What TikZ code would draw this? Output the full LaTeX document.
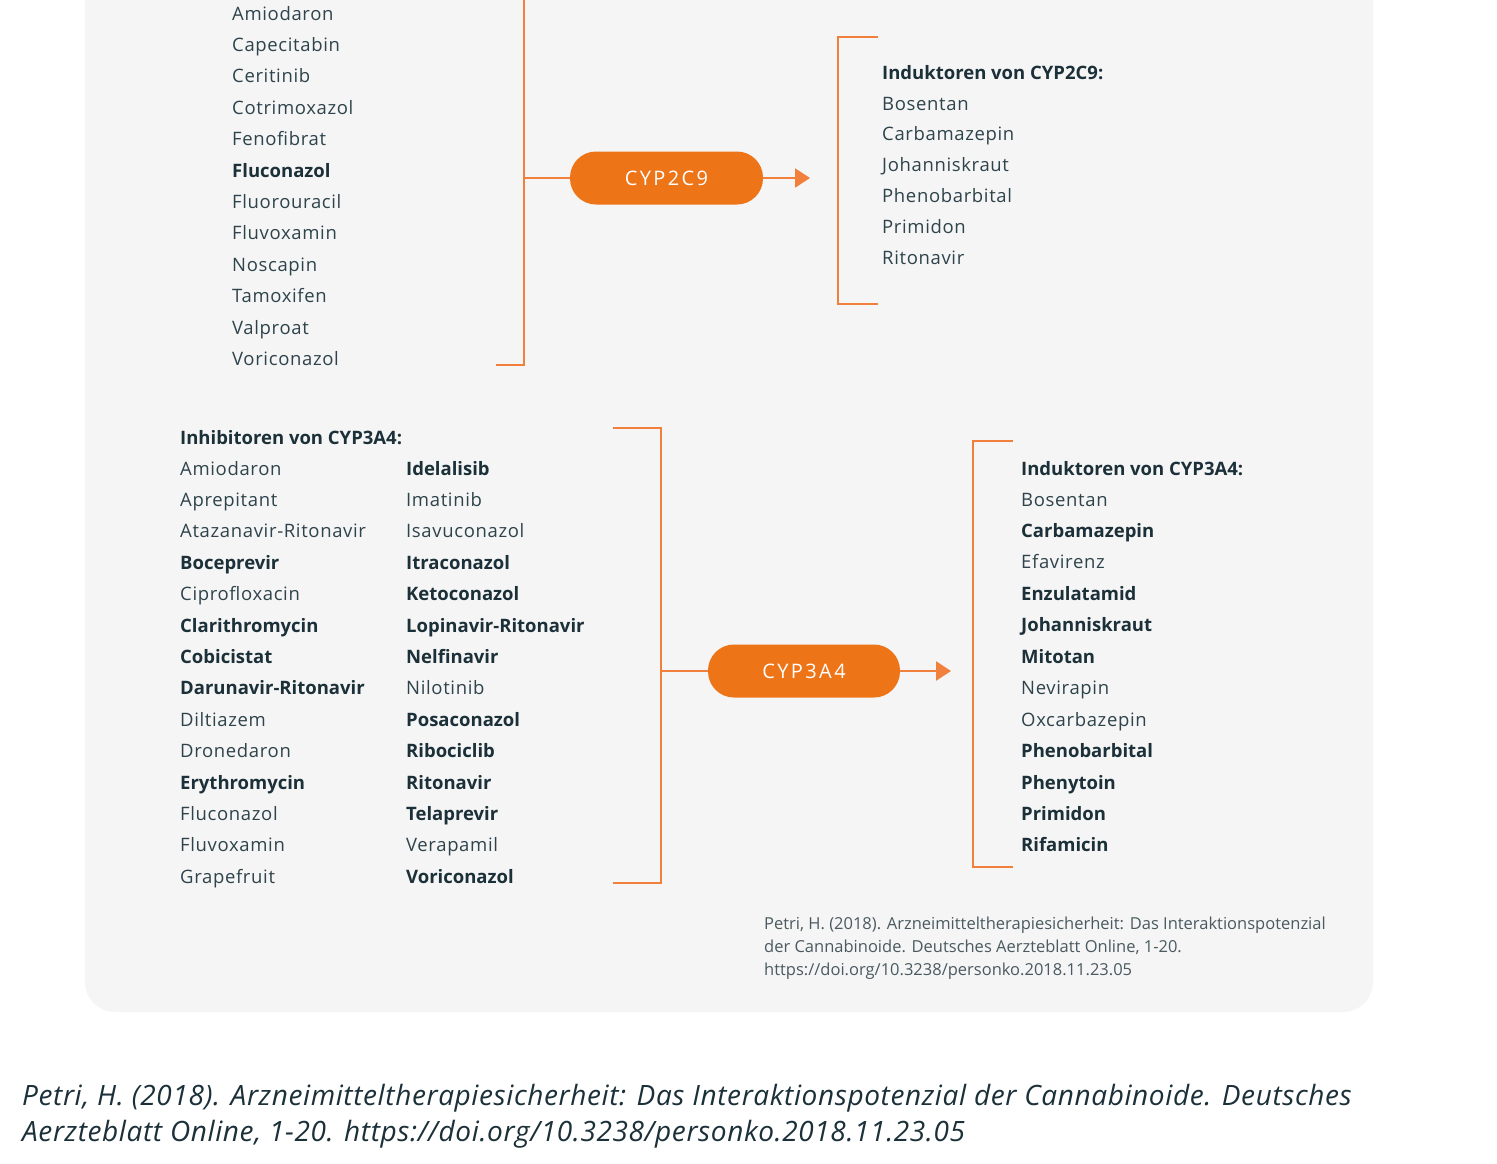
\documentclass[tikz,border=0pt]{standalone}
\usepackage{fontspec}
\setmainfont{Open Sans}
\usetikzlibrary{arrows.meta}
\definecolor{panel}{HTML}{F5F5F5}
\definecolor{pillc}{HTML}{EE7418}
\definecolor{linec}{HTML}{F0803C}
\definecolor{txt}{HTML}{2E434B}
\definecolor{txtb}{HTML}{1B3038}
\definecolor{cite}{HTML}{4A5A60}
\tikzset{
  item/.style={anchor=base west, inner sep=0pt, text=txt, font=\fontsize{18.5}{23}\selectfont\addfontfeature{LetterSpace=3.5}},
  pill/.style={rounded corners=26pt, fill=pillc, text=white, minimum height=53pt, inner sep=0pt,
     font=\fontsize{20}{25}\selectfont\addfontfeature{LetterSpace=12}},
  brk/.style={draw=linec, line width=2.4pt},
  arr/.style={draw=linec, line width=2.4pt, -{Triangle[length=15pt,width=19pt]}},
  citetxt/.style={anchor=base west, inner sep=0pt, text=cite, font=\fontsize{16.5}{23}\selectfont},
  capt/.style={anchor=base west, inner sep=0pt, text=txtb, font=\fontsize{28}{36}\selectfont\itshape\addfontfeature{LetterSpace=2.2}},
}
\newcommand{\itm}[2]{\ifnum#1=1\bfseries\addfontfeature{LetterSpace=0}\color{txtb}\fi #2}
\begin{document}
\begin{tikzpicture}[x=1pt,y=-1pt]
\useasboundingbox (0,0) rectangle (1497,1163);
\fill[white] (0,0) rectangle (1497,1163);
\fill[panel, rounded corners=30pt] (85,-60) rectangle (1373,1012);

% ---- top: CYP2C9 inhibitors (list)
\foreach \t/\b [count=\i] in {Amiodaron/0,Capecitabin/0,Ceritinib/0,Cotrimoxazol/0,Fenofibrat/0,Fluconazol/1,Fluorouracil/0,Fluvoxamin/0,Noscapin/0,Tamoxifen/0,Valproat/0,Voriconazol/0}
  \node[item] (a\i) at (232,{20+(\i-1)*31.4}) {\itm{\b}{\t}};

\coordinate (b1top) at (524,-5);
\coordinate (b1bot) at (524,365);
\coordinate (b1end) at (496,365);
\coordinate (b1mid) at (524,178);
\draw[brk] (b1top) -- (b1bot) -- (b1end);

\node[pill, minimum width=193pt] (cyp2c9) at (666.5,178) {CYP2C9};
\draw[brk] (b1mid) -- (cyp2c9.west);
\coordinate (a2tip) at (810,178);
\draw[arr] (cyp2c9.east) -- (a2tip);

\coordinate (b2t) at (878,37);
\coordinate (b2tl) at (838,37);
\coordinate (b2bl) at (838,304);
\coordinate (b2b) at (878,304);
\draw[brk] (b2t) -- (b2tl) -- (b2bl) -- (b2b);

\node[item] (h2) at (882,79) {\itm{1}{Induktoren von CYP2C9:}};
\foreach \t [count=\i] in {Bosentan,Carbamazepin,Johanniskraut,Phenobarbital,Primidon,Ritonavir}
  \node[item] (d\i) at (882,{110+(\i-1)*30.8}) {\t};

% ---- bottom: CYP3A4 inhibitors
\node[item] (h3) at (180,444) {\itm{1}{Inhibitoren von CYP3A4:}};
\foreach \t/\b [count=\i] in {Amiodaron/0,Aprepitant/0,Atazanavir-Ritonavir/0,Boceprevir/1,Ciprofloxacin/0,Clarithromycin/1,Cobicistat/1,Darunavir-Ritonavir/1,Diltiazem/0,Dronedaron/0,Erythromycin/1,Fluconazol/0,Fluvoxamin/0,Grapefruit/0}
  \node[item] (e\i) at (180,{475+(\i-1)*31.4}) {\itm{\b}{\t}};
\foreach \t/\b [count=\i] in {Idelalisib/1,Imatinib/0,Isavuconazol/0,Itraconazol/1,Ketoconazol/1,Lopinavir-Ritonavir/1,Nelfinavir/1,Nilotinib/0,Posaconazol/1,Ribociclib/1,Ritonavir/1,Telaprevir/1,Verapamil/0,Voriconazol/1}
  \node[item] (f\i) at (406,{475+(\i-1)*31.4}) {\itm{\b}{\t}};

\coordinate (b3t) at (613,428);
\coordinate (b3tr) at (661,428);
\coordinate (b3br) at (661,883);
\coordinate (b3b) at (613,883);
\coordinate (b3mid) at (661,671);
\draw[brk] (b3t) -- (b3tr) -- (b3br) -- (b3b);

\node[pill, minimum width=192pt] (cyp3a4) at (804,671) {CYP3A4};
\draw[brk] (b3mid) -- (cyp3a4.west);
\coordinate (a4tip) at (951,671);
\draw[arr] (cyp3a4.east) -- (a4tip);

\coordinate (b4t) at (1013,441);
\coordinate (b4tl) at (973,441);
\coordinate (b4bl) at (973,867);
\coordinate (b4b) at (1013,867);
\draw[brk] (b4t) -- (b4tl) -- (b4bl) -- (b4b);

\node[item] (h4) at (1021,475) {\itm{1}{Induktoren von CYP3A4:}};
\foreach \t/\b [count=\i] in {Bosentan/0,Carbamazepin/1,Efavirenz/0,Enzulatamid/1,Johanniskraut/1,Mitotan/1,Nevirapin/0,Oxcarbazepin/0,Phenobarbital/1,Phenytoin/1,Primidon/1,Rifamicin/1}
  \node[item] (g\i) at (1021,{506+(\i-1)*31.45}) {\itm{\b}{\t}};

% ---- citation in panel
\node[citetxt] (c1) at (764,929) {Petri, H. (2018). Arzneimitteltherapiesicherheit: Das Interaktionspotenzial};
\node[citetxt] (c2) at (764,952) {der Cannabinoide. Deutsches Aerzteblatt Online, 1-20.};
\node[citetxt] (c3) at (764,975) {https://doi.org/10.3238/personko.2018.11.23.05};

% ---- caption
\node[capt] (k1) at (22,1105) {Petri, H. (2018). Arzneimitteltherapiesicherheit: Das Interaktionspotenzial der Cannabinoide. Deutsches};
\node[capt] (k2) at (22,1141) {Aerzteblatt Online, 1-20. https://doi.org/10.3238/personko.2018.11.23.05};
\end{tikzpicture}
\end{document}
